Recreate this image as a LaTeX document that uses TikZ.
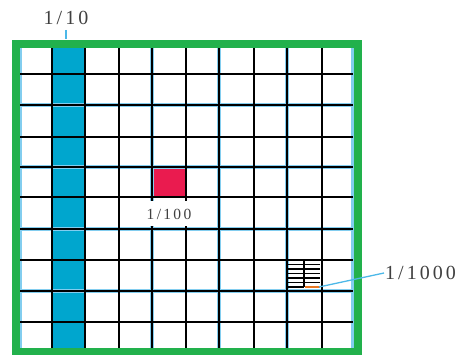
\documentclass[tikz,border=0pt]{standalone}
\usepackage{fontspec}
\newfontfamily\lblfont{Liberation Serif}[LetterSpace=15]
\definecolor{gridgreen}{HTML}{22B14C}
\definecolor{colblue}{HTML}{00A6CE}
\definecolor{cellred}{HTML}{EA1B4F}
\definecolor{leadblue}{HTML}{4CB8E8}
\definecolor{textgray}{HTML}{404040}
\definecolor{tinyorange}{HTML}{E87722}

\begin{document}
\begin{tikzpicture}[x=1pt, y=-1pt,
	% Define the styles
	gridline/.style={black, line width=2.2pt},
	glow/.style={leadblue!70, line width=4pt},
	tinyline/.style={black, line width=1.2pt},
	label/.style={text=textgray, font=\lblfont\fontsize{20}{22}\selectfont, inner sep=1pt},
	leader/.style={leadblue, line width=1.3pt}
	]
	
	\useasboundingbox (0,0) rectangle (461,355);
	
	% --- COLUMN AND CELL ---
	\fill[colblue] (52,48) rectangle (85,348);
	\fill[cellred] (152,167) rectangle (186,197);
	
	% --- GRID ---
	% lines that show a blue fringe
	\foreach \x in {20,152,219,287,353} \draw[glow] (\x,48) -- (\x,348);
	\foreach \y in {105,167,229,291} \draw[glow] (20,\y) -- (353,\y);
	
	\foreach \x in {52,85,119,152,186,219,254,287,322} \draw[gridline] (\x,48) -- (\x,348);
	\foreach \y in {74,105,137,167,197,229,260,291,322} \draw[gridline] (20,\y) -- (353,\y);
	
	% --- TINY PARTS (1/1000) ---
	\foreach \y in {264.5,269,273.5,278,282.5} \draw[tinyline] (288,\y) -- (320,\y);
	\draw[tinyline] (288,287) -- (304,287);
	\draw[tinyline] (304,260) -- (304,287);
	\draw[tinyorange, line width=1.6pt] (305,287) -- (320,287);
	
	% --- BORDER ---
	\draw[gridgreen, line width=8pt] (16,44) rectangle (357.5,352);
	
	% --- LABELS ---
	\node[label] (tenth) at (66,18) {1/10};
	\coordinate (tenthtick) at (66,39);
	\draw[leader, shorten <=4pt] (tenth.south) -- (tenthtick);
	
	\node[label, font=\lblfont\fontsize{15.5}{17}\selectfont, fill=white, minimum width=32pt, minimum height=25pt] (hundredth) at (169,214) {1/100};
	
	\node[label, anchor=west] (thousandth) at (384,273) {1/1000};
	\coordinate (tinybit) at (319,287);
	\draw[leader] (tinybit) -- (thousandth.west);
	
\end{tikzpicture}
\end{document}
